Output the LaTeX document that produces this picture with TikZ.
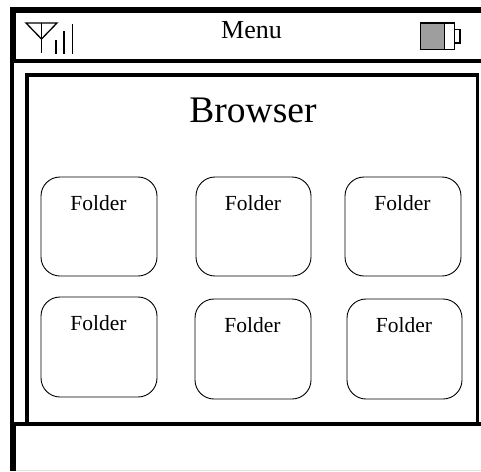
\documentclass[tikz,border=0pt]{standalone}
\usepackage{fontspec}
\setmainfont{Liberation Serif}
\tikzset{
  folderbox/.style={draw=black,line width=0.9pt,rounded corners=19pt,fill=white},
  heavy/.style={line width=4.5pt,draw=black},
  medium/.style={line width=3.5pt,draw=black},
  icon/.style={line width=1.3pt,draw=black},
  lbl/.style={anchor=base,inner sep=0pt,text=black},
}
\newcommand{\folderat}[5]{%
  \draw[folderbox] (#1,#2) rectangle (#3,#4);
  \node[lbl,font=\fontsize{21.5}{23}\selectfont] (#5) at ({(#1+#3)/2-0.5},{#2+33}) {Folder};
}
\begin{document}
\begin{tikzpicture}[x=1pt,y=-1pt]
\useasboundingbox (0,0) rectangle (481,471);
\fill[white] (0,0) rectangle (481,471);
% outer frame
\draw[line width=6pt] (12.5,10) -- (481,10);
\draw[line width=6pt] (12.5,7) -- (12.5,60);
\draw[medium] (12,60) -- (12,423);
\draw[line width=4pt] (10,60.5) -- (481,60.5);
% browser panel
\draw[medium] (27,425) -- (27,75) -- (477.5,75) -- (477.5,425);
\draw[line width=4pt] (10,423.5) -- (481,423.5);
\draw[line width=6pt] (13,422) -- (13,471);
\draw[line width=0.4pt,black!12] (16,470.5) -- (481,470.5);
% signal icon
\draw[icon] (26,23) -- (57,23) -- (41.5,39) -- cycle;
\draw[icon] (41.5,23) -- (41.5,53);
\draw[icon] (56,40) -- (56,54);
\draw[icon] (64,31) -- (64,54);
\draw[icon] (72.5,24) -- (72.5,54);
% battery icon
\draw[icon,fill=black!38] (420.5,23) rectangle (444.5,49.5);
\draw[icon] (444.5,23) rectangle (454.5,49.5);
\draw[icon] (454.5,29.5) rectangle (460,43);
% labels
\node[lbl,font=\fontsize{26}{28}\selectfont] (menu) at (251.5,38) {Menu};
\node[lbl,font=\fontsize{37.5}{40}\selectfont] (browser) at (253,122) {Browser};
% folders
\folderat{41}{177}{157}{276}{fa}
\folderat{196}{177}{311}{276}{fb}
\folderat{345}{177}{461}{276}{fc}
\folderat{41}{297}{157}{397}{fd}
\folderat{195}{299}{311}{399}{fe}
\folderat{347}{299}{462}{399}{ff}
\end{tikzpicture}
\end{document}
